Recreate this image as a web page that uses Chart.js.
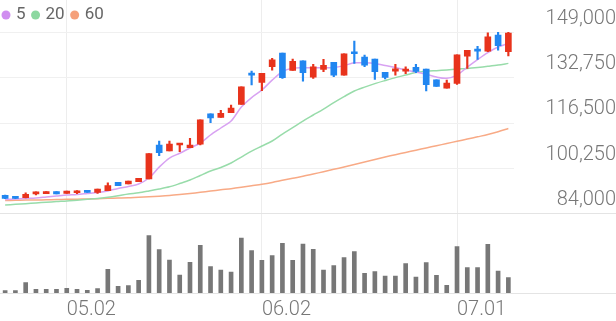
<!DOCTYPE html>
<html>
<head>
<meta charset="utf-8">
<script src="https://cdn.jsdelivr.net/npm/chart.js@4.4.1/dist/chart.umd.min.js"></script>
<style>
  html, body { margin: 0; padding: 0; background: #fff; }
  canvas { display: block; }
</style>
</head>
<body>
<canvas id="chart" width="616" height="321"></canvas>
<script>
// trading days
const dates = [
    '04.23', '04.24', '04.25', '04.28', '04.29', '04.30',
    '05.02', '05.07', '05.08', '05.09', '05.12', '05.13', '05.14', '05.15', '05.16',
    '05.19', '05.20', '05.21', '05.22', '05.23', '05.26', '05.27', '05.28', '05.29', '05.30',
    '06.02', '06.04', '06.05', '06.09', '06.10', '06.11', '06.12', '06.13', '06.16',
    '06.17', '06.18', '06.19', '06.20', '06.23', '06.24', '06.25', '06.26', '06.27', '06.30',
    '07.01', '07.02', '07.03', '07.04', '07.07', '07.08'
];
const tickLabels = ['05.02', '06.02', '07.01'];
const priceTicks = [84000, 100250, 116500, 132750, 149000];

const opens = [
    90700, 90200, 89850, 91150, 91250, 92000, 91400, 91600, 92500, 91750,
    92350, 95350, 94750, 95550, 96550, 108700, 106550, 108700, 107750, 109050,
    119900, 118600, 120250, 123250, 134350, 131150, 136750, 141650, 135450, 138900,
    133050, 135800, 138300, 133750, 142100, 140200, 139500, 134750, 135200, 135200,
    136500, 135900, 132100, 129100, 130800, 140550, 142800, 142350, 148100, 142100
];
const highs = [
    90800, 90300, 91600, 91900, 92000, 92000, 92250, 92350, 92500, 92950,
    95200, 95350, 95800, 96800, 105600, 110150, 110150, 109300, 111100, 117750,
    119900, 121100, 123000, 129550, 135200, 134350, 139750, 141650, 139500, 138900,
    137600, 139400, 138300, 141400, 145950, 140900, 139500, 134750, 137600, 136750,
    137600, 135900, 132100, 131950, 141050, 142600, 144050, 148900, 149050, 149050
];
const lows = [
    89500, 89500, 89800, 90800, 91250, 91150, 91400, 91250, 91750, 91400,
    92350, 94150, 94750, 95550, 96550, 104850, 106550, 106300, 107750, 108700,
    116700, 118600, 120250, 123250, 130200, 128200, 135550, 132600, 135450, 131600,
    132600, 134950, 133150, 133750, 137950, 136750, 132200, 132350, 133750, 134250,
    134600, 128050, 129700, 129100, 130450, 136150, 139400, 142100, 142700, 140650
];
const closes = [
    89600, 89600, 91050, 91900, 92000, 91150, 92250, 92100, 91750, 92950,
    94150, 94150, 95800, 96800, 105600, 105950, 109050, 109300, 108700, 117750,
    118450, 120050, 121950, 129550, 133750, 134350, 139250, 132800, 138650, 134600,
    136750, 137250, 133750, 141400, 141400, 137350, 134950, 132950, 136000, 135650,
    135100, 130300, 129700, 130900, 141050, 142600, 142350, 147450, 144250, 148800
];
const volumes = [
    46000, 46000, 206000, 74000, 74000, 74000, 94000, 74000, 54000, 86000,
    474000, 134000, 146000, 254000, 1146000, 866000, 660000, 360000, 614000, 954000,
    526000, 460000, 420000, 1100000, 846000, 654000, 746000, 994000, 654000, 980000,
    874000, 460000, 546000, 706000, 826000, 394000, 426000, 340000, 340000, 586000,
    320000, 606000, 354000, 154000, 926000, 506000, 506000, 974000, 440000, 306000
];
const ma5 = [
    89200, 89350, 89550, 89750, 90100, 90450, 90800, 91000, 91350, 91700,
    92250, 93150, 93850, 94750, 96900, 100800, 104050, 105750, 107650, 109400,
    112300, 114800, 117300, 122300, 125700, 128400, 131950, 135000, 136250, 136400,
    136400, 136400, 136500, 137150, 138150, 138150, 137900, 137150, 136450, 135550,
    134850, 134100, 133050, 132600, 133750, 136600, 139300, 141800, 143800, 145100
];
const ma20 = [
    87200, 87450, 87700, 87950, 88200, 88450, 88650, 88950, 89250, 89550,
    90000, 90550, 91150, 91600, 92250, 92950, 93750, 94900, 96150, 97800,
    99400, 100650, 102250, 104400, 106550, 108350, 110150, 112650, 114950, 117300,
    119450, 121600, 123900, 126050, 128050, 129450, 130700, 131800, 132850, 133750,
    134650, 135100, 135350, 135600, 135900, 136150, 136500, 136900, 137350, 137950
];
const ma60 = [
    88850, 88900, 89000, 89000, 89100, 89150, 89250, 89300, 89370, 89500,
    89600, 89700, 89800, 90000, 90150, 90350, 90600, 90950, 91350, 91750,
    92200, 92650, 93050, 93550, 94100, 94650, 95300, 96050, 96800, 97500,
    98300, 99150, 100000, 100850, 101750, 102600, 103500, 104400, 105250, 106050,
    106850, 107650, 108450, 109250, 110050, 110850, 111650, 112450, 113450, 114600
];

const upColor = '#e8331c';
const downColor = '#2186f0';
const candleColors = closes.map((c, i) => c >= opens[i] ? upColor : downColor);

const tickFont = { family: 'Roboto', size: 20, weight: '300' };

function alignPx(y) {
    return Math.round(y - 0.5) + 0.5;
}

// full width separator under price area and under volume area
const separatorLines = {
    id: 'separatorLines',
    beforeDatasetsDraw(chart) {
        const ctx = chart.ctx;
        const lines = [
            chart.scales.y.getPixelForValue(priceTicks[0]),
            chart.scales.yv.getPixelForValue(0)
        ];
        ctx.save();
        ctx.strokeStyle = '#e4e4e4';
        ctx.lineWidth = 1;
        lines.forEach(y => {
            const py = alignPx(y);
            ctx.beginPath();
            ctx.moveTo(0, py);
            ctx.lineTo(chart.width, py);
            ctx.stroke();
        });
        ctx.restore();
    }
};

// small legend for moving averages, drawn over the plot
const maLegend = {
    id: 'maLegend',
    afterDraw(chart) {
        const ctx = chart.ctx;
        ctx.save();
        ctx.font = '17px Roboto';
        ctx.textBaseline = 'middle';
        let x = 2;
        chart.data.datasets.filter(ds => ds.type === 'line').forEach(ds => {
            ctx.fillStyle = ds.legendColor;
            ctx.beginPath();
            ctx.arc(x + 4, 15, 4.5, 0, Math.PI * 2);
            ctx.fill();
            ctx.fillStyle = '#666';
            ctx.fillText(ds.label, x + 14, 15);
            x += 14 + ctx.measureText(ds.label).width + 6;
        });
        ctx.restore();
    }
};

const ctx = document.getElementById('chart').getContext('2d');
const chart = new Chart(ctx, {
    type: 'bar',
    data: {
        labels: dates,
        datasets: [
            {
                type: 'line', label: '5', data: ma5,
                borderColor: '#d8a2f2', legendColor: '#d08ef0',
                borderWidth: 1.5, pointRadius: 0, tension: 0.3, order: 3, yAxisID: 'y'
            },
            {
                type: 'line', label: '20', data: ma20,
                borderColor: '#98dcaa', legendColor: '#8cd8a0',
                borderWidth: 1.5, pointRadius: 0, tension: 0.3, order: 3, yAxisID: 'y'
            },
            {
                type: 'line', label: '60', data: ma60,
                borderColor: '#f8aa86', legendColor: '#f5a07a',
                borderWidth: 1.5, pointRadius: 0, tension: 0.3, order: 3, yAxisID: 'y'
            },
            {
                label: 'wick',
                data: lows.map((l, i) => [l, highs[i]]),
                backgroundColor: candleColors,
                barThickness: 1.5, grouped: false, order: 1, yAxisID: 'y'
            },
            {
                label: 'body',
                data: opens.map((o, i) => [o, closes[i]]),
                backgroundColor: candleColors,
                barThickness: 6, minBarLength: 2, grouped: false, order: 0, yAxisID: 'y'
            },
            {
                label: 'volume',
                data: volumes,
                backgroundColor: '#777777',
                barThickness: 4, grouped: false, order: 2, yAxisID: 'yv'
            }
        ]
    },
    options: {
        responsive: false,
        animation: false,
        devicePixelRatio: 1,
        layout: { padding: 0 },
        plugins: {
            legend: { display: false },
            tooltip: { enabled: false }
        },
        scales: {
            x: {
                offset: true,
                grid: {
                    offset: false,
                    drawTicks: false,
                    color: c => tickLabels.includes(dates[c.index]) ? '#ededed' : 'rgba(0,0,0,0)'
                },
                border: { display: false },
                ticks: {
                    autoSkip: false,
                    maxRotation: 0,
                    align: 'start',
                    padding: 5,
                    color: '#777',
                    font: tickFont,
                    callback: (v, i) => tickLabels.includes(dates[i]) ? dates[i] : ''
                },
                afterFit: s => { s.height = 28; s.paddingLeft = 0; s.paddingRight = 0; }
            },
            y: {
                position: 'right',
                min: 55700,
                max: 160650,
                afterBuildTicks: s => { s.ticks = priceTicks.map(v => ({ value: v })); },
                grid: { drawTicks: false, color: '#f0f0f0' },
                border: { display: false },
                ticks: {
                    padding: 26,
                    crossAlign: 'far',
                    labelOffset: -14,
                    color: '#777',
                    font: tickFont,
                    callback: v => v.toLocaleString('en-US')
                },
                afterFit: s => { s.width = 102.5; s.paddingTop = 0; s.paddingBottom = 0; }
            },
            yv: {
                display: false,
                min: 0,
                max: 5860000
            }
        }
    },
    plugins: [separatorLines, maLegend]
});
</script>
</body>
</html>
